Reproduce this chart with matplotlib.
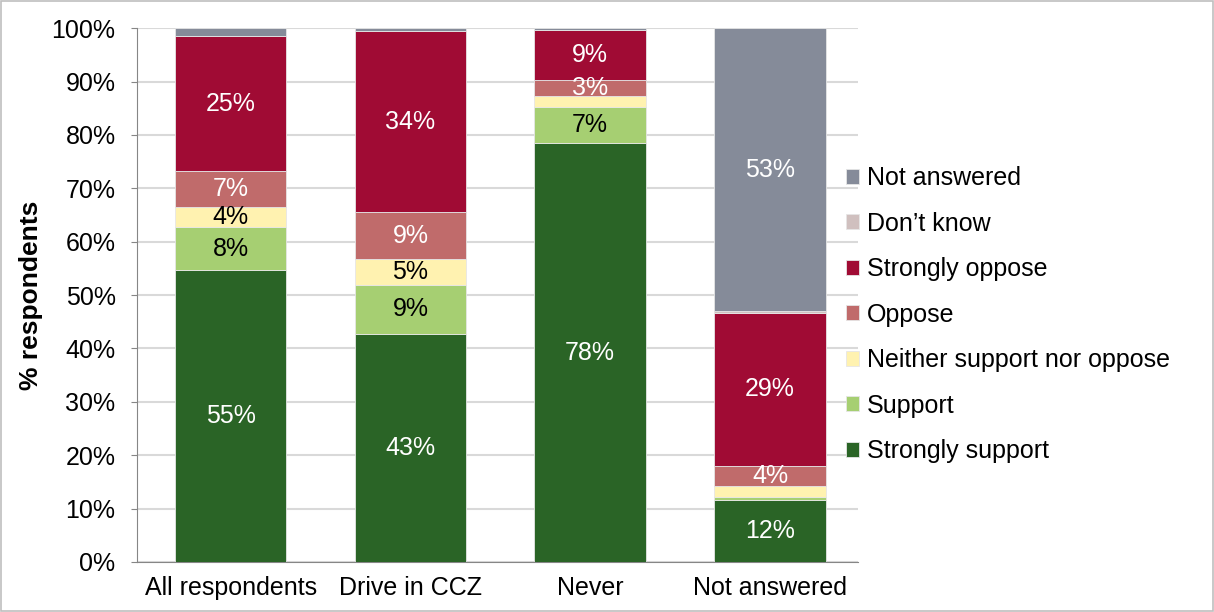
import matplotlib.pyplot as plt
import numpy as np

plt.rcParams['font.family'] = ['Liberation Sans', 'DejaVu Sans']

groups = ['All respondents', 'Drive in CCZ', 'Never', 'Not answered']
series = ['Strongly support', 'Support', 'Neither support nor oppose',
          'Oppose', 'Strongly oppose', "Don\u2019t know", 'Not answered']
strongly_support = [54.7, 42.7, 78.4, 11.7]
support = [8.0, 9.2, 6.9, 0.5]
neither = [3.8, 4.8, 1.9, 2.0]
oppose = [6.7, 8.8, 3.0, 3.8]
strongly_oppose = [25.3, 33.9, 9.4, 28.7]
dont_know = [0.1, 0.1, 0.1, 0.3]
not_answered = [1.4, 0.5, 0.3, 53.0]

values = [strongly_support, support, neither, oppose,
          strongly_oppose, dont_know, not_answered]
colors = ['#2a6426', '#a6cf72', '#fff2b0', '#c06b6b',
          '#a00b34', '#d0c0bf', '#858b99']
text_colors = ['white', 'black', 'black', 'white', 'white', 'black', 'white']

fig = plt.figure(figsize=(12.14, 6.12), dpi=100)
ax = fig.add_axes([0.1129, 0.0817, 0.594, 0.8723])

x = np.arange(len(groups))
bottom = np.zeros(len(groups))
handles = []
for vals, col, tc, name in zip(values, colors, text_colors, series):
    vals = np.array(vals)
    b = ax.bar(x, vals, 0.62, bottom=bottom, color=col,
               edgecolor='#e6e6e6', linewidth=0.6, label=name, zorder=3)
    handles.append(b)
    for xi, v, bt in zip(x, vals, bottom):
        if round(v) >= 3:
            ax.text(xi, bt + v / 2, '%d%%' % round(v), ha='center',
                    va='center', color=tc, fontsize=18, zorder=4)
    bottom += vals

ax.set_xlim(-0.52, 3.49)
ax.set_ylim(0, 100)
ax.set_yticks(np.arange(0, 101, 10))
ax.set_yticklabels(['%d%%' % t for t in range(0, 101, 10)], fontsize=18)
ax.set_xticks(x)
ax.set_xticklabels(groups, fontsize=18)
ax.tick_params(axis='x', length=0, pad=10)
ax.tick_params(axis='y', length=4.5, color='#868686', pad=11)
ax.yaxis.grid(True, color='#d9d9d9', linewidth=1.5, zorder=0)
ax.set_axisbelow(True)
for s in ['top', 'right']:
    ax.spines[s].set_visible(False)
for s in ['left', 'bottom']:
    ax.spines[s].set_color('#868686')
ax.set_ylabel('% respondents', fontsize=19, fontweight='bold')
ax.yaxis.set_label_coords(-0.130, 0.5)

fig.legend(handles[::-1], series[::-1], loc='center left',
           bbox_to_anchor=(0.678, 0.486), frameon=False, fontsize=18,
           handlelength=0.55, handleheight=0.55, handletextpad=0.3,
           labelspacing=0.86)

fig.patches.append(plt.Rectangle((0.001, 0.001), 0.998, 0.997,
                                 transform=fig.transFigure, fill=False,
                                 edgecolor='#bfbfbf', linewidth=1.2))

fig.savefig('out.png', dpi=100)
